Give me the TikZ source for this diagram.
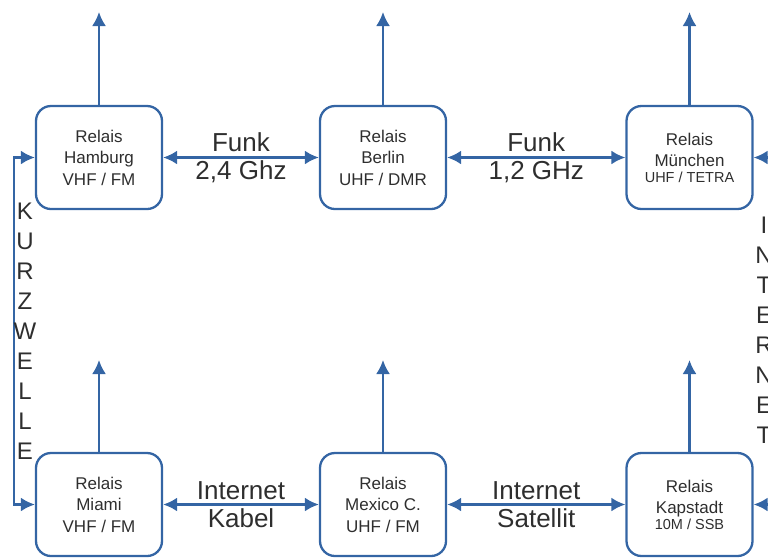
\documentclass[tikz,border=0pt]{standalone}
\usepackage{fontspec}
\setmainfont{Liberation Sans}
\usetikzlibrary{arrows.meta}
\definecolor{relaisblue}{HTML}{3465A4}
\definecolor{relaistext}{HTML}{2E2E2E}

\tikzset{
  relais/.style={shape=rectangle, draw=relaisblue, line width=2.3pt, rounded corners=15pt,
    minimum width=126pt, minimum height=103pt, align=center, text=relaistext,
    font=\fontsize{17}{21.5}\selectfont},
  link/.style={draw=relaisblue, line width=2.3pt, -{Latex[length=14pt,width=14pt]}},
  biarrow/.style={draw=relaisblue, line width=2.3pt, {Latex[length=14pt,width=14pt]}-{Latex[length=14pt,width=14pt]}},
  linklabel/.style={align=center, text=relaistext, font=\fontsize{26}{28}\selectfont},
  letters/.style={align=center, text=relaistext, inner sep=0pt, font=\fontsize{24}{30}\selectfont}
}
\newcommand{\smallline}[1]{{\fontsize{14.5}{17}\selectfont #1}}

\begin{document}
\begin{tikzpicture}[x=1pt, y=-1pt]
\useasboundingbox (0,0) rectangle (768,558);
\clip (0,0) rectangle (768,558);

\node at (99, 157.5) [relais] (hamburg) {Relais\\Hamburg\\VHF / FM};
\node at (383, 157.5) [relais] (berlin) {Relais\\Berlin\\UHF / DMR};
\node at (689.5, 157.5) [relais] (muenchen) {Relais\\München\\[-6pt]\smallline{UHF / TETRA}};
\node at (99, 504.5) [relais] (miami) {Relais\\Miami\\VHF / FM};
\node at (383, 504.5) [relais] (mexico) {Relais\\Mexico C.\\UHF / FM};
\node at (689.5, 504.5) [relais] (kapstadt) {Relais\\Kapstadt\\[-6pt]\smallline{10M / SSB}};

\coordinate (topout) at (0, 12);
\coordinate (botout) at (0, 360);
\coordinate (kwleft) at (14, 0);
\coordinate (netright) at (782, 0);

\foreach \n in {hamburg, berlin, muenchen}
  \draw [link] (\n.north) to (\n.north |- topout);
\foreach \n in {miami, mexico, kapstadt}
  \draw [link] (\n.north) to (\n.north |- botout);

\draw [biarrow] (hamburg) to node [linklabel] {Funk\\2,4 Ghz} (berlin);
\draw [biarrow] (berlin) to node [linklabel] {Funk\\1,2 GHz} (muenchen);
\draw [biarrow] (miami) to node [linklabel] {Internet\\Kabel} (mexico);
\draw [biarrow] (mexico) to node [linklabel] {Internet\\Satellit} (kapstadt);

\draw [biarrow] (hamburg.west) -- (hamburg.west -| kwleft) -- (miami.west -| kwleft) -- (miami.west);
\draw [biarrow] (muenchen.east) -- (muenchen.east -| netright) -- (kapstadt.east -| netright) -- (kapstadt.east);

\node at (25, 331.5) [letters] (kurzwelle) {K\\U\\R\\Z\\W\\E\\L\\L\\E};
\node at (764, 330.5) [letters] (internet) {I\\N\\T\\E\\R\\N\\E\\T};
\end{tikzpicture}
\end{document}
